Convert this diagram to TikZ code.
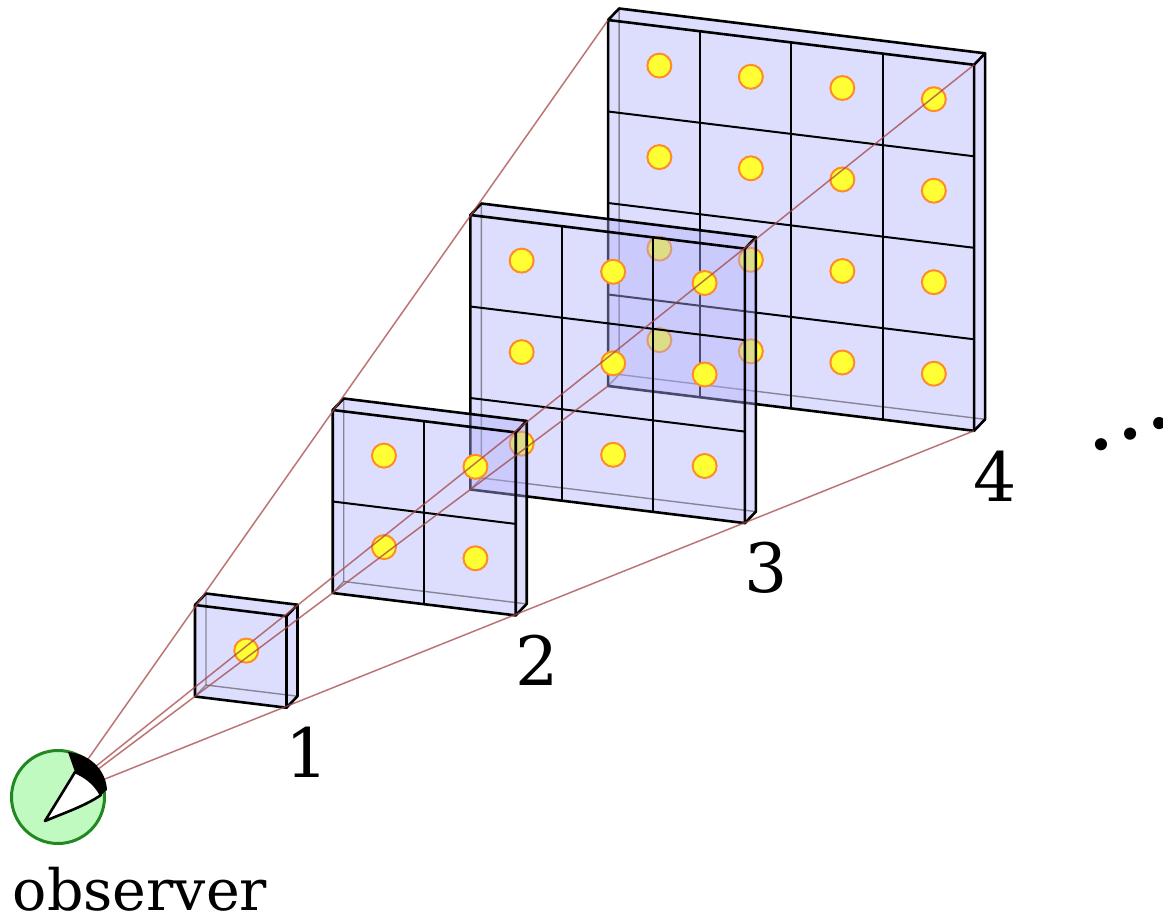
\documentclass[tikz,border=0pt]{standalone}
\usepackage{fontspec}
\setmainfont{DejaVu Serif}
\usetikzlibrary{calc}
\definecolor{panelfill}{RGB}{175,175,250}
\definecolor{dotfill}{RGB}{255,255,51}
\definecolor{dotdraw}{RGB}{255,140,40}
\definecolor{raycol}{RGB}{165,70,70}
\definecolor{eyefill}{RGB}{192,250,192}
\definecolor{eyedraw}{RGB}{34,136,34}
\begin{document}
\begin{tikzpicture}[x=1pt,y=-1pt,
  panel/.style={fill=panelfill, fill opacity=0.42},
  edge/.style={draw=black, line width=2.6pt, line join=round, line cap=round},
  hidden/.style={draw=black, draw opacity=0.4, line width=1.4pt},
  gridline/.style={draw=black, line width=2pt},
  sample/.style={circle, fill=dotfill, draw=dotdraw, line width=2pt, minimum size=24pt, inner sep=0pt},
  ray/.style={draw=raycol, draw opacity=0.75, line width=1.5pt},
  lab/.style={font=\fontsize{68}{80}\selectfont, inner sep=0pt}]
\useasboundingbox (0,0) rectangle (1163,918);

\foreach \n in {4,3,2,1} {
  \pgfmathsetmacro\px{195+(\n-1)*137.7}
  \pgfmathsetmacro\py{605-(\n-1)*195}
  \pgfmathsetmacro\wx{\n*91.5}
  \pgfmathsetmacro\wy{\n*11.2}
  \pgfmathsetmacro\h{\n*91.5}
  \pgfmathtruncatemacro\nm{\n-1}
  \coordinate (ftl\n) at ({\px},{\py});
  \coordinate (ftr\n) at ({\px+\wx},{\py+\wy});
  \coordinate (fbr\n) at ({\px+\wx},{\py+\wy+\h});
  \coordinate (fbl\n) at ({\px},{\py+\h});
  \coordinate (btl\n) at ({\px+11},{\py-11.5});
  \coordinate (btr\n) at ({\px+\wx+11},{\py+\wy-11.5});
  \coordinate (bbr\n) at ({\px+\wx+11},{\py+\wy+\h-11.5});
  \coordinate (bbl\n) at ({\px+11},{\py+\h-11.5});
  \fill[panel] (ftl\n) -- (btl\n) -- (btr\n) -- (bbr\n) -- (fbr\n) -- (fbl\n) -- cycle;
  \draw[hidden] (fbl\n) -- (bbl\n) -- (btl\n);
  \draw[hidden] (bbl\n) -- (bbr\n);
  \ifnum\n>1
    \foreach \i in {1,...,\nm} {
      \draw[gridline] ({\px+\i*91.5},{\py+\i*11.2}) -- ({\px+\i*91.5},{\py+\i*11.2+\h});
      \draw[gridline] ({\px},{\py+\i*91.5}) -- ({\px+\wx},{\py+\wy+\i*91.5});
    }
  \fi
  \draw[edge] (ftl\n) -- (ftr\n) -- (fbr\n) -- (fbl\n) -- cycle;
  \draw[edge] (ftl\n) -- (btl\n) -- (btr\n) -- (bbr\n) -- (fbr\n);
  \draw[edge] (ftr\n) -- (btr\n);
  \foreach \i in {0,...,\nm} {
    \foreach \j in {0,...,\nm} {
      \node[sample] (s\n-\i-\j) at ({\px+(\i+0.5)*91.5+5.5},{\py+(\i+0.5)*11.2+(\j+0.5)*91.5-5.75}) {};
    }
  }
  \node[lab] (lab\n) at ($(fbr\n)+(21,45)$) {\n};
}

% rays from the eye
\coordinate (eTL) at (86,762);
\coordinate (eTR) at (95,767);
\coordinate (eBL) at (97,770);
\coordinate (eBR) at (105,779);
\draw[ray] (eTL) -- (ftl4);
\draw[ray] (eTR) -- (ftr4);
\draw[ray] (eBL) -- (fbl4);
\draw[ray] (eBR) -- (fbr4);

% observer
\node[circle, draw=eyedraw, fill=eyefill, line width=3pt, minimum size=93pt, inner sep=0pt] (eye) at (58,797) {};
\fill[black] (68,752) .. controls (90,754) and (106,770) .. (107,790)
  -- (101,795) .. controls (94,782) and (84,776) .. (75,772) -- cycle;
\draw[black, fill=white, line width=2.6pt, line join=round]
  (45,821) .. controls (56,803) and (66,787) .. (75,772)
  .. controls (84,776) and (94,782) .. (101,795)
  .. controls (85,806) and (64,813) .. cycle;
\node[font=\fontsize{57}{68}\selectfont, inner sep=0pt] (obs) at (140,889) {observer};

% ellipsis
\node[font=\fontsize{93}{100}\selectfont, inner sep=0pt, rotate=20] (more) at (1131,434) {…};
\end{tikzpicture}
\end{document}
